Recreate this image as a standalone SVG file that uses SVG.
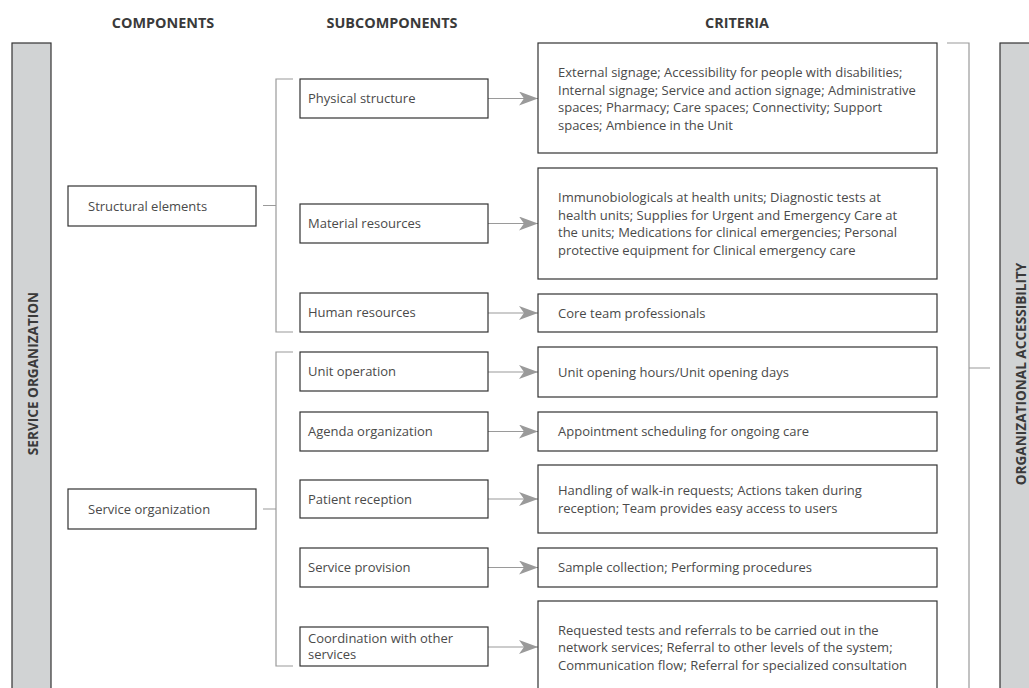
<svg xmlns="http://www.w3.org/2000/svg" width="1029" height="688" viewBox="0 0 1029 688">
<style>
.hdr{font-family:"Open Sans","Liberation Sans",sans-serif;font-weight:bold;font-size:14.4px;fill:#3a3a3a;text-anchor:middle}
.bar{fill:#d1d3d4;stroke:#333;stroke-width:1.2}
.barlbl{font-family:"Open Sans","Liberation Sans",sans-serif;font-weight:bold;font-size:13.6px;fill:#3a3a3a;text-anchor:middle}
.box{fill:#fff;stroke:#333;stroke-width:1.2}
.t{font-family:"Open Sans","Liberation Sans",sans-serif;font-size:13px;fill:#4a4a4a}
.br{fill:none;stroke:#9a9a9a;stroke-width:1.2}
.arr{stroke:#9a9a9a;stroke-width:1.2;marker-end:url(#ah)}
</style>
<defs>
<marker id="ah" viewBox="0 0 19 14" refX="19" refY="7" markerWidth="19" markerHeight="14" markerUnits="userSpaceOnUse" orient="auto">
<path d="M0,0 L19,7 L0,14 L5,7 Z" fill="#9a9a9a"/>
</marker>
</defs>
<rect width="1029" height="688" fill="#fff"/>
<g id="headers">
<text class="hdr" x="163" y="27.5">COMPONENTS</text>
<text class="hdr" x="392" y="27.5">SUBCOMPONENTS</text>
<text class="hdr" x="737" y="27.5">CRITERIA</text>
</g>
<g id="service-organization-bar">
<rect class="bar" x="12" y="43" width="39" height="660"/>
<text class="barlbl" transform="translate(37.5,373.5) rotate(-90)">SERVICE ORGANIZATION</text>
</g>
<g id="organizational-accessibility-bar">
<rect class="bar" x="1000" y="43" width="39" height="660"/>
<text class="barlbl" transform="translate(1025.5,374) rotate(-90)">ORGANIZATIONAL ACCESSIBILITY</text>
</g>
<g id="connectors">
<path class="br" d="M293,79 H276 V332 H293 M263,205.5 H276"/>
<path class="br" d="M293,352 H276 V666 H293 M263,509 H276"/>
<path class="br" d="M947,43 H969 V700 M969,368 H990"/>
<line class="arr" x1="488" y1="98.5" x2="538" y2="98.5"/>
<line class="arr" x1="488" y1="223.5" x2="538" y2="223.5"/>
<line class="arr" x1="488" y1="313" x2="538" y2="313"/>
<line class="arr" x1="488" y1="372" x2="538" y2="372"/>
<line class="arr" x1="488" y1="431.5" x2="538" y2="431.5"/>
<line class="arr" x1="488" y1="499" x2="538" y2="499"/>
<line class="arr" x1="488" y1="567.5" x2="538" y2="567.5"/>
<line class="arr" x1="488" y1="647" x2="538" y2="647"/>
</g>
<g id="structural-elements">
<rect class="box" x="68" y="186" width="188" height="40"/>
<text class="t" x="88" y="210.5">Structural elements</text>
</g>
<g id="service-organization">
<rect class="box" x="68" y="489" width="188" height="40"/>
<text class="t" x="88" y="513.5">Service organization</text>
</g>
<g id="physical-structure">
<rect class="box" x="300" y="79" width="188" height="39"/>
<text class="t" x="308" y="103">Physical structure</text>
</g>
<g id="material-resources">
<rect class="box" x="300" y="204" width="188" height="39"/>
<text class="t" x="308" y="228">Material resources</text>
</g>
<g id="human-resources">
<rect class="box" x="300" y="293" width="188" height="39"/>
<text class="t" x="308" y="317">Human resources</text>
</g>
<g id="unit-operation">
<rect class="box" x="300" y="352" width="188" height="39"/>
<text class="t" x="308" y="376">Unit operation</text>
</g>
<g id="agenda-organization">
<rect class="box" x="300" y="412" width="188" height="39"/>
<text class="t" x="308" y="436">Agenda organization</text>
</g>
<g id="patient-reception">
<rect class="box" x="300" y="480" width="188" height="38"/>
<text class="t" x="308" y="503.5">Patient reception</text>
</g>
<g id="service-provision">
<rect class="box" x="300" y="548" width="188" height="39"/>
<text class="t" x="308" y="572">Service provision</text>
</g>
<g id="coordination">
<rect class="box" x="300" y="627" width="188" height="39"/>
<text class="t" x="308" y="642.5">Coordination with other</text>
<text class="t" x="308" y="659">services</text>
</g>
<g id="criteria-physical">
<rect class="box" x="538" y="43" width="399" height="110"/>
<text class="t" x="558" y="77">External signage; Accessibility for people with disabilities;</text>
<text class="t" x="558" y="94.5">Internal signage; Service and action signage; Administrative</text>
<text class="t" x="558" y="112">spaces; Pharmacy; Care spaces; Connectivity; Support</text>
<text class="t" x="558" y="129.5">spaces; Ambience in the Unit</text>
</g>
<g id="criteria-material">
<rect class="box" x="538" y="168" width="399" height="111"/>
<text class="t" x="558" y="202">Immunobiologicals at health units; Diagnostic tests at</text>
<text class="t" x="558" y="219.5">health units; Supplies for Urgent and Emergency Care at</text>
<text class="t" x="558" y="237">the units; Medications for clinical emergencies; Personal</text>
<text class="t" x="558" y="254.5">protective equipment for Clinical emergency care</text>
</g>
<g id="criteria-human">
<rect class="box" x="538" y="294" width="399" height="38"/>
<text class="t" x="558" y="317.5">Core team professionals</text>
</g>
<g id="criteria-unit">
<rect class="box" x="538" y="347" width="399" height="50"/>
<text class="t" x="558" y="376.5">Unit opening hours/Unit opening days</text>
</g>
<g id="criteria-agenda">
<rect class="box" x="538" y="412" width="399" height="39"/>
<text class="t" x="558" y="436">Appointment scheduling for ongoing care</text>
</g>
<g id="criteria-reception">
<rect class="box" x="538" y="465" width="399" height="68"/>
<text class="t" x="558" y="495">Handling of walk-in requests; Actions taken during</text>
<text class="t" x="558" y="512.5">reception; Team provides easy access to users</text>
</g>
<g id="criteria-provision">
<rect class="box" x="538" y="548" width="399" height="39"/>
<text class="t" x="558" y="572">Sample collection; Performing procedures</text>
</g>
<g id="criteria-coordination">
<rect class="box" x="538" y="601" width="399" height="92"/>
<text class="t" x="558" y="634.5">Requested tests and referrals to be carried out in the</text>
<text class="t" x="558" y="652">network services; Referral to other levels of the system;</text>
<text class="t" x="558" y="669.5">Communication flow; Referral for specialized consultation</text>
</g>
</svg>
